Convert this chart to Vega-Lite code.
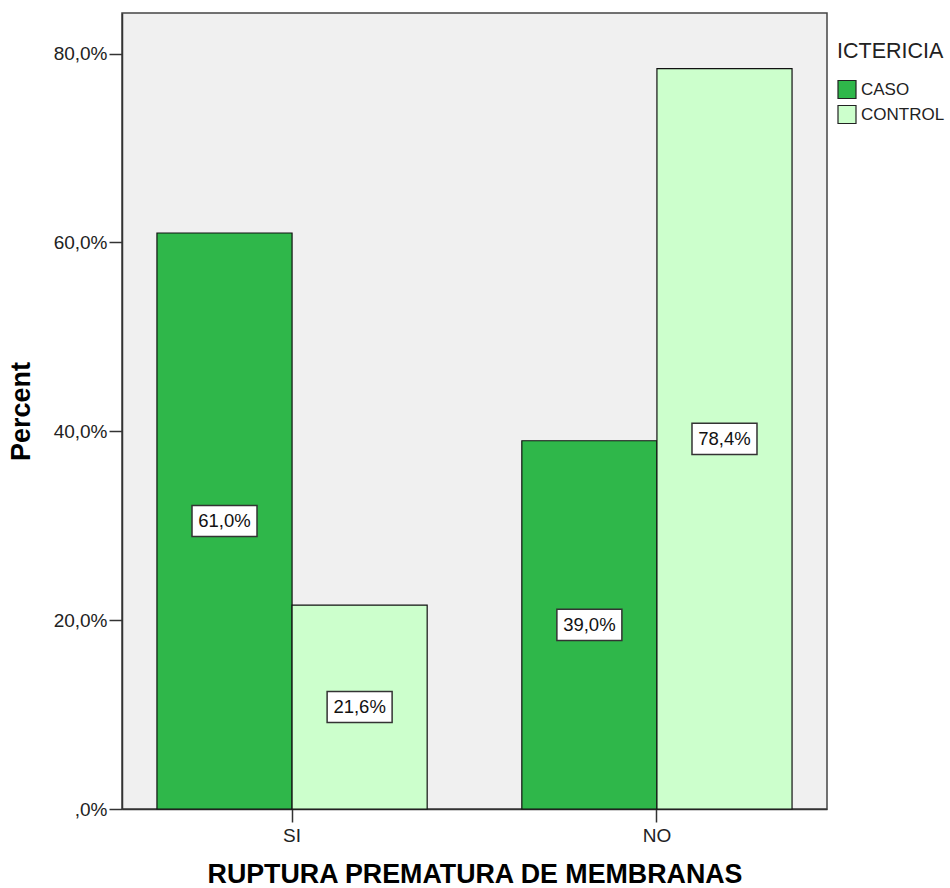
{
  "$schema": "https://vega.github.io/schema/vega-lite/v6.json",
  "width": 705,
  "height": 796,
  "autosize": {"type": "none"},
  "padding": {"left": 122, "top": 13, "right": 123, "bottom": 79},
  "background": "white",
  "config": {
    "font": "Liberation Sans",
    "view": {"fill": "#f0f0f0", "stroke": "#444444", "strokeWidth": 1.5},
    "locale": {"number": {"decimal": ",", "thousands": ".", "grouping": [3], "currency": ["", "€"]}}
  },
  "data": {
    "values": [
      {"rpm": "SI", "icter": "CASO", "pct": 61.0, "label": "61,0%"},
      {"rpm": "SI", "icter": "CONTROL", "pct": 21.6, "label": "21,6%"},
      {"rpm": "NO", "icter": "CASO", "pct": 39.0, "label": "39,0%"},
      {"rpm": "NO", "icter": "CONTROL", "pct": 78.4, "label": "78,4%"}
    ]
  },
  "encoding": {
    "x": {
      "field": "rpm", "type": "nominal", "sort": ["SI", "NO"],
      "scale": {"paddingInner": 0.2594, "paddingOuter": 0.0958},
      "axis": {
        "title": "RUPTURA PREMATURA DE MEMBRANAS", "labelAngle": 0, "labelFontSize": 19, "labelColor": "#222",
        "tickSize": 13, "tickColor": "#333", "tickWidth": 1.5, "domainColor": "#333", "domainWidth": 1.5,
        "labelPadding": 4, "titleFontSize": 26.8, "titleFontWeight": "bold", "titleColor": "#000", "titlePadding": 16, "grid": false
      }
    },
    "xOffset": {"field": "icter", "type": "nominal", "sort": ["CASO", "CONTROL"], "scale": {"paddingInner": 0, "paddingOuter": 0}}
  },
  "layer": [
    {
      "mark": {"type": "bar", "stroke": "#111", "strokeWidth": 1.2},
      "encoding": {
        "y": {
          "field": "pct", "type": "quantitative",
          "scale": {"domain": [0, 84.3], "nice": false, "zero": true},
          "axis": {
            "title": "Percent", "values": [0, 20, 40, 60, 80],
            "labelExpr": "datum.value == 0 ? ',0%' : replace(format(datum.value, '.1f'), '.', ',') + '%'",
            "grid": false, "labelFontSize": 19, "labelColor": "#222", "tickSize": 13, "tickColor": "#333", "tickWidth": 1.5,
            "domainColor": "#333", "domainWidth": 1.5, "labelPadding": 2,
            "titleFontSize": 27, "titleFontWeight": "bold", "titleColor": "#000", "titlePadding": 18
          }
        },
        "color": {
          "field": "icter", "type": "nominal", "sort": ["CASO", "CONTROL"],
          "scale": {"domain": ["CASO", "CONTROL"], "range": ["#2fb74a", "#ccffcc"]},
          "legend": {
            "title": "ICTERICIA", "orient": "none", "legendX": 715, "legendY": 28, "padding": 0,
            "titleFontSize": 21.5, "titleFontWeight": "normal", "titleColor": "#222", "titlePadding": 17,
            "labelFontSize": 17, "labelColor": "#222", "labelOffset": 4,
            "symbolType": "square", "symbolSize": 324, "symbolStrokeColor": "#222", "symbolStrokeWidth": 1.2,
            "rowPadding": 1
          }
        }
      }
    },
    {
      "layer": [
        {"mark": {"type": "point", "shape": "M-1,-0.48H1V0.48H-1Z", "filled": true, "fill": "white", "stroke": "#333", "strokeWidth": 1.5, "size": 4225, "opacity": 1}},
        {"mark": {"type": "text", "fontSize": 18.5, "color": "#111"}, "encoding": {"text": {"field": "label"}}}
      ],
      "encoding": {
        "y": {"field": "pct", "type": "quantitative", "scale": {"domain": [0, 168.6], "nice": false}, "axis": null}
      }
    }
  ],
  "resolve": {"scale": {"y": "independent"}}
}
